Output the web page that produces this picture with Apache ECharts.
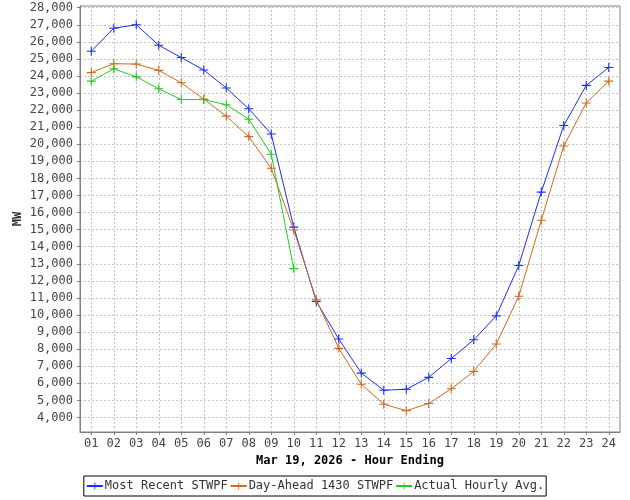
<!DOCTYPE html>
<html>
<head>
<meta charset="utf-8">
<script src="https://cdn.jsdelivr.net/npm/echarts@6/dist/echarts.min.js"></script>
<style>
  html, body { margin: 0; padding: 0; background: #fff; }
  #chart { width: 630px; height: 500px; }
</style>
</head>
<body>
<div id="chart"></div>
<script>
const hours = [1,2,3,4,5,6,7,8,9,10,11,12,13,14,15,16,17,18,19,20,21,22,23,24];
const mostRecent = [25450,26800,27000,25800,25080,24350,23300,22080,20600,15150,10800,8600,6600,5600,5650,6350,7450,8550,9950,12900,17200,21100,23450,24500];
const dayAhead = [24200,24720,24700,24330,23600,22650,21650,20450,18600,14980,10900,8050,5950,4780,4400,4820,5680,6700,8300,11100,15550,19900,22420,23700];
const actual = [23700,24420,23950,23250,22620,22620,22320,21470,19420,12720];
const seriesNames = ['Most Recent STWPF', 'Day-Ahead 1430 STWPF', 'Actual Hourly Avg.'];
const xTitle = 'Mar 19, 2026 - Hour Ending';
const yTitle = 'MW';

const pair = arr => arr.map((v, i) => [hours[i], v]);
const plus = 'path://M-0.6,-5H0.6V-0.6H5V0.6H0.6V5H-0.6V0.6H-5V-0.6H-0.6Z';
const font = 'DejaVu Sans Mono';
const fmtNum = v => String(Math.round(v)).replace(/\B(?=(\d{3})+(?!\d))/g, ',');

const mk = (name, data, color) => ({
  name, type: 'line', data,
  symbol: plus, symbolSize: 9, showSymbol: true,
  lineStyle: { color, width: 1 },
  itemStyle: { color },
  emphasis: { disabled: true },
  animation: false
});

const chart = echarts.init(document.getElementById('chart'), null, { renderer: 'canvas' });
chart.setOption({
  backgroundColor: '#ffffff',
  animation: false,
  grid: { left: 80, right: 10, top: 6, bottom: 68, show: true, borderColor: '#808080', borderWidth: 1, containLabel: false },
  graphic: [{
    type: 'text', x: 18, y: 219, rotation: Math.PI / 2,
    style: { text: yTitle, fontFamily: font, fontWeight: 'bold', fontSize: 12, fill: '#333', align: 'center', verticalAlign: 'middle' }
  }],
  xAxis: {
    type: 'value', min: 0.5, max: 24.5, splitNumber: 24,
    name: xTitle, nameLocation: 'middle', nameGap: 23,
    nameTextStyle: { fontFamily: font, fontWeight: 'bold', fontSize: 12, color: '#000' },
    axisLine: { show: true, lineStyle: { color: '#808080' } },
    axisTick: { show: true, length: 3, lineStyle: { color: '#808080' } },
    axisLabel: {
      fontFamily: font, fontSize: 12, color: '#444', margin: 6,
      showMinLabel: false, showMaxLabel: false,
      formatter: v => (Number.isInteger(v) ? String(v).padStart(2, '0') : '')
    },
    splitLine: { show: true, lineStyle: { color: '#c4c4c4', type: [2, 2], width: 1 } }
  },
  yAxis: {
    type: 'value', min: 3150, max: 28100, splitNumber: 25,
    axisLine: { show: true, lineStyle: { color: '#808080' } },
    axisTick: { show: true, length: 3, lineStyle: { color: '#808080' } },
    axisLabel: {
      fontFamily: font, fontSize: 12, color: '#444', margin: 7,
      showMinLabel: false, showMaxLabel: false,
      formatter: v => (v % 1000 === 0 ? fmtNum(v) : '')
    },
    splitLine: { show: true, lineStyle: { color: '#c4c4c4', type: [2, 2], width: 1 } }
  },
  legend: {
    bottom: 4, left: 'center',
    borderColor: '#000', borderWidth: 1, padding: [4, 2],
    itemGap: 2, itemWidth: 16, itemHeight: 9,
    textStyle: { fontFamily: font, fontSize: 12, color: '#333', padding: [0, 0, 0, -3] },
    data: seriesNames
  },
  series: [
    mk(seriesNames[0], pair(mostRecent), '#1a2eff'),
    mk(seriesNames[1], pair(dayAhead), '#d2691e'),
    mk(seriesNames[2], pair(actual), '#22cc22')
  ]
});
</script>
</body>
</html>
